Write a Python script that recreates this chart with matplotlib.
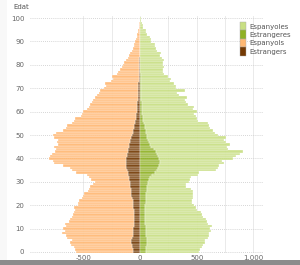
import numpy as np
import matplotlib
matplotlib.use("Agg")
import matplotlib.pyplot as plt
from matplotlib.patches import Rectangle, Patch

ages = list(range(0, 101))

espanyols = [500, 505, 510, 540, 545, 525, 570, 585, 630, 600,
             620, 595, 605, 580, 570, 550, 540, 525, 515, 520,
             490, 480, 475, 440, 425, 415, 380, 370, 355, 325,
             310, 335, 350, 365, 450, 485, 500, 560, 640, 650,
             680, 675, 665, 640, 635, 660, 625, 640, 635, 685,
             700, 675, 620, 595, 590, 555, 540, 532, 485, 478,
             470, 442, 424, 416, 398, 390, 380, 362, 342, 334,
             305, 285, 296, 248, 228, 240, 190, 182, 172, 153,
             144, 134, 115, 105, 96, 86, 67, 57, 53, 48,
             38, 34, 29, 24, 19, 15, 10, 8, 5, 3, 2]
estrangers = [60, 65, 70, 70, 75, 75, 70, 65, 60, 60,
              60, 55, 55, 50, 50, 50, 50, 55, 55, 60,
              60, 65, 65, 70, 75, 75, 80, 80, 85, 85,
              90, 95, 100, 105, 110, 115, 120, 120, 120, 120,
              120, 115, 115, 110, 105, 100, 95, 90, 85, 75,
              70, 65, 60, 55, 50, 45, 40, 38, 35, 32,
              30, 28, 26, 24, 22, 20, 20, 18, 18, 16,
              15, 15, 14, 12, 12, 10, 10, 8, 8, 7,
              6, 6, 5, 5, 4, 4, 3, 3, 2, 2,
              2, 1, 1, 1, 1, 0, 0, 0, 0, 0, 0]
espanyoles = [470, 475, 495, 500, 515, 510, 540, 550, 555, 580,
              570, 585, 555, 545, 540, 515, 505, 495, 455, 445,
              435, 410, 405, 410, 415, 410, 410, 390, 345, 335,
              360, 360, 360, 400, 390, 520, 530, 530, 565, 545,
              650, 690, 730, 770, 660, 670, 700, 680, 670, 695,
              630, 605, 590, 575, 570, 565, 480, 472, 465, 458,
              480, 452, 464, 405, 396, 388, 403, 330, 320, 391,
              312, 307, 293, 259, 264, 245, 205, 196, 201, 206,
              197, 202, 207, 188, 178, 183, 148, 139, 134, 129,
              99, 94, 85, 60, 55, 50, 30, 25, 20, 10, 8]
estrangeres = [50, 55, 55, 60, 60, 60, 60, 55, 55, 50,
               50, 50, 45, 45, 45, 45, 45, 45, 45, 45,
               45, 50, 50, 55, 55, 55, 60, 60, 65, 70,
               70, 80, 90, 110, 130, 150, 160, 170, 175, 175,
               170, 160, 150, 140, 120, 100, 90, 80, 70, 65,
               60, 55, 50, 45, 40, 35, 30, 28, 25, 22,
               20, 18, 16, 15, 14, 12, 12, 10, 10, 9,
               8, 8, 7, 6, 6, 5, 5, 4, 4, 4,
               3, 3, 3, 2, 2, 2, 2, 1, 1, 1,
               1, 1, 0, 0, 0, 0, 0, 0, 0, 0, 0]

legend_labels = ["Espanyoles", "Estrangeres", "Espanyols", "Estrangers"]
xticks = [-500, 0, 500, 1000]
xticklabels = ["-500", "0", "500", "1.000"]
yticks = list(range(0, 101, 10))

c_esp_f = "#c8df83"
c_est_f = "#8fb124"
c_esp_m = "#ffb873"
c_est_m = "#743a04"

W, H = 300, 265
fig = plt.figure(figsize=(W / 100, H / 100), dpi=100)
fig.patch.set_facecolor("white")

# bottom shadow band
fig.add_artist(Rectangle((0, 0), 1, 5 / H, transform=fig.transFigure,
                         facecolor="#8c8c8c", edgecolor="none"))
fig.add_artist(Rectangle((0, 5 / H), 7 / W, 1, transform=fig.transFigure,
                         facecolor="#f8f8f8", edgecolor="none"))

ax = fig.add_axes([30 / W, (H - 253.4) / H, 233 / W, (253.4 - 15.7) / H])
ax.set_facecolor("white")
ax.set_xlim(-970, 1085)
ax.set_ylim(-0.6, 101)

for gx in [-500, -250, 0, 250, 500, 750, 1000]:
    ax.axvline(gx, color="#e6e6e6", lw=0.6, zorder=0)
for gy in yticks:
    ax.axhline(gy, color="#c8c8c8", lw=0.6, ls=(0, (1, 1.5)), zorder=0)

a = np.array(ages)
m_est = np.array(estrangers)
m_esp = np.array(espanyols)
f_est = np.array(estrangeres)
f_esp = np.array(espanyoles)

kw = dict(height=1.0, edgecolor="white", linewidth=0.25, alpha=0.92, zorder=2)
ax.barh(a, -m_est, color=c_est_m, **kw)
ax.barh(a, -m_esp, left=-m_est, color=c_esp_m, **kw)
ax.barh(a, f_est, color=c_est_f, **kw)
ax.barh(a, f_esp, left=f_est, color=c_esp_f, **kw)

ax.set_xticks(xticks)
ax.set_xticklabels(xticklabels)
ax.set_yticks(yticks)
ax.tick_params(axis="both", length=0, labelsize=5, labelcolor="#666666")
ax.tick_params(axis="x", pad=1.5)
ax.tick_params(axis="y", pad=4)
for s in ax.spines.values():
    s.set_visible(False)

fig.text(13 / W, 1 - 7 / H, "Edat", fontsize=5, color="#555555", va="center", ha="left")

handles = [Patch(facecolor=c, edgecolor="#aaaaaa", linewidth=0.3)
           for c in [c_esp_f, c_est_f, c_esp_m, c_est_m]]
fig.legend(handles, legend_labels, loc="upper left",
           bbox_to_anchor=(240 / W, 1 - 22 / H), frameon=False,
           fontsize=5, labelcolor="#555555", handlelength=0.9, handleheight=1.5,
           handletextpad=0.5, labelspacing=0.0, borderpad=0, borderaxespad=0)

fig.savefig("out.png", dpi=100)
